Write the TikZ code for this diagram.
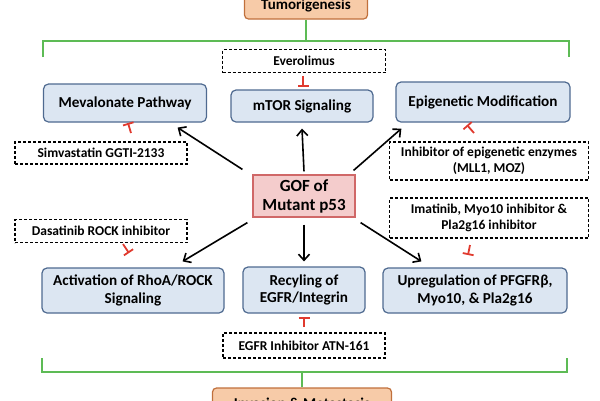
\documentclass[tikz,border=0pt]{standalone}
\usepackage{fontspec}
\setmainfont{Carlito}
\usetikzlibrary{arrows.meta}
\definecolor{boxblue}{HTML}{DCE6F2}
\definecolor{blueedge}{HTML}{4F6A90}
\definecolor{boxorange}{HTML}{F7CBA8}
\definecolor{orangeedge}{HTML}{C0703C}
\definecolor{boxpink}{HTML}{F4CCCC}
\definecolor{pinkedge}{HTML}{D06868}
\definecolor{bracegreen}{HTML}{5DBB55}
\definecolor{inhred}{HTML}{E03A2E}
\tikzset{
  bluebox/.style={draw=blueedge, fill=boxblue, rounded corners=5pt, line width=1.2pt,
    inner sep=0pt, align=center, font=\bfseries\fontsize{15.2}{17.5}\selectfont},
  drugbox/.style={draw, dash pattern=on 3pt off 2pt, line width=1.1pt, fill=white,
    inner sep=0pt, align=center, font=\bfseries\fontsize{13.5}{16}\selectfont},
  endbox/.style={draw=orangeedge, fill=boxorange, rounded corners=4pt, line width=1.2pt,
    inner sep=0pt, font=\bfseries\fontsize{15}{17}\selectfont},
  act/.style={line width=1.6pt, -{Straight Barb[length=6pt,width=11pt]}},
  inhib/.style={draw=inhred, line width=1.8pt, -{Bar[width=11pt,line width=1.8pt]}},
  brace/.style={draw=bracegreen, line width=1.8pt}
}
\begin{document}
\begin{tikzpicture}[x=1pt,y=-1pt]
      \useasboundingbox (0,0) rectangle (600,400);
      % outcome boxes
      \node[endbox, minimum width=123pt, minimum height=26pt] (tumor) at (306,6) {Tumorigenesis};
      \node[endbox, minimum width=179pt, minimum height=30pt] (invas) at (302,403) {Invasion \& Metastasis};
      % pathways
      \node[bluebox, minimum width=163pt, minimum height=38pt] (meva) at (125,103) {Mevalonate Pathway};
      \node[bluebox, minimum width=142pt, minimum height=32pt] (mtor) at (302,106) {mTOR Signaling};
      \node[bluebox, minimum width=174pt, minimum height=40pt] (epi) at (483,102) {Epigenetic Modification};
      \node[bluebox, minimum width=182pt, minimum height=45pt] (rhoa) at (133,290.5) {Activation of RhoA/ROCK\\Signaling};
      \node[bluebox, minimum width=122pt, minimum height=46pt] (recy) at (304,290) {Recyling of\\EGFR/Integrin};
      \node[bluebox, minimum width=184pt, minimum height=45pt] (upreg) at (475,290.5) {Upregulation of PFGFRβ,\\Myo10, \& Pla2g16};
      \node[draw=pinkedge, fill=boxpink, line width=1.2pt, inner sep=0pt, align=center,
        minimum width=102pt, minimum height=42pt, font=\bfseries\fontsize{17}{19}\selectfont]
        (gof) at (304,196) {GOF of\\Mutant p53};
      % drugs
      \node[drugbox, minimum width=163pt, minimum height=23pt] (ever) at (304,61) {Everolimus};
      \node[drugbox, minimum width=172pt, minimum height=22pt] (simv) at (101,153) {Simvastatin GGTI-2133};
      \node[drugbox, minimum width=199pt, minimum height=38pt] (enz) at (489,161) {Inhibitor of epigenetic enzymes\\(MLL1, MOZ)};
      \node[drugbox, minimum width=199pt, minimum height=40pt] (imat) at (489,218) {Imatinib, Myo10 inhibitor \&\\Pla2g16 inhibitor};
      \node[drugbox, minimum width=172pt, minimum height=23pt] (dasa) at (101,231) {Dasatinib ROCK inhibitor};
      \node[drugbox, minimum width=162pt, minimum height=25pt] (egfr) at (304,345.5) {EGFR Inhibitor ATN-161};
      % inhibitor ends
      \coordinate (ev1) at (303,76);  \coordinate (ev2) at (303,87);
      \coordinate (sv1) at (131,133); \coordinate (sv2) at (128,123);
      \coordinate (en1) at (474,133); \coordinate (en2) at (467,125);
      \coordinate (da1) at (123,244); \coordinate (da2) at (129,253);
      \coordinate (im1) at (470,245); \coordinate (im2) at (468,255);
      \coordinate (eg1) at (304,327); \coordinate (eg2) at (304,317);
      % brackets
      \coordinate (topmid) at (306,41);
      \coordinate (botmid) at (302,372);
      \draw[brace] (43,57) -- (43,41) -- (569,41) -- (569,57);
      \draw[brace] (tumor.south) -- (topmid);
      \draw[brace] (42,358) -- (42,372) -- (567,372) -- (567,358);
      \draw[brace] (invas.north) -- (botmid);
      \begin{scope}[act]
        \draw ([xshift=-10pt,yshift=5pt]gof.north west) to ([xshift=-29.5pt,yshift=-5pt]meva.south east);
        \draw ([yshift=3pt]gof.north) to ([yshift=-6pt]mtor.south);
        \draw ([xshift=-2pt,yshift=4pt]gof.north east) to ([xshift=6pt,yshift=-6pt]epi.south west);
        \draw ([xshift=-5pt,yshift=-5pt]gof.south west) to ([xshift=-42pt,yshift=6pt]rhoa.north east);
        \draw ([yshift=-7pt]gof.south) to ([yshift=5pt]recy.north);
        \draw ([xshift=5pt,yshift=-5pt]gof.south east) to ([xshift=39pt,yshift=6pt]upreg.north west);
      \end{scope}
      \begin{scope}[inhib]
        \draw (ev1) to (ev2);
        \draw (sv1) to (sv2);
        \draw (en1) to (en2);
        \draw (da1) to (da2);
        \draw (im1) to (im2);
        \draw (eg1) to (eg2);
      \end{scope}
    \end{tikzpicture}
\end{document}
